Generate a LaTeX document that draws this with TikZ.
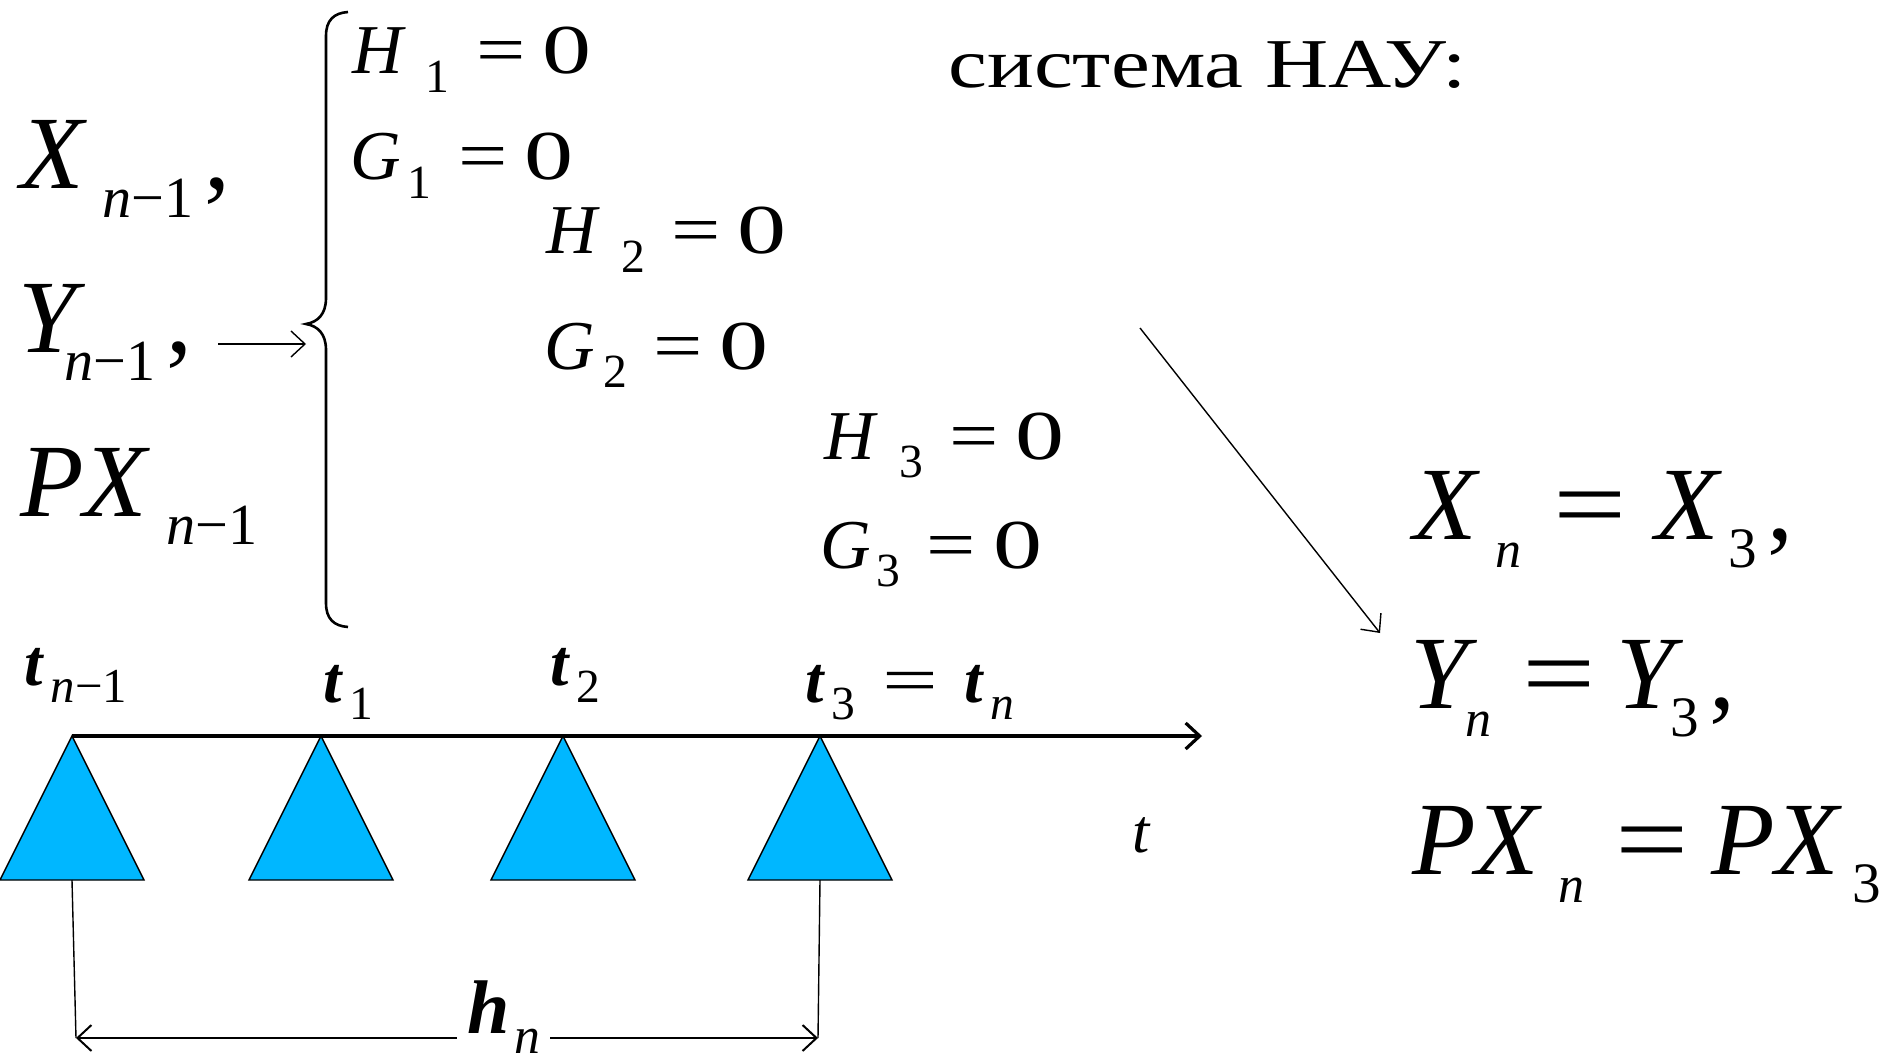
\documentclass[tikz,border=0pt]{standalone}
\usepackage{graphicx}
\usepackage{fontspec}
\setmainfont{Liberation Serif}
\usetikzlibrary{arrows.meta, positioning}
\definecolor{markblue}{RGB}{0,183,255}
% letter with a lowered index: [size]{gap}{letter}{index}
\newcommand\idx[4][.56]{#3\kern#2em\raisebox{-.27em}{\scalebox{#1}{#4}}}
\newcommand\vi[1]{\textit{#1}}
\newcommand\vb[1]{\textbf{\textit{#1}}}
\newcommand\eqs{\scalebox{1.25}[1]{=}}
\newcommand\eqz{\hspace{.38em}\eqs\hspace{.24em}\scalebox{1.4}[1]{0}}

\begin{document}
\begin{tikzpicture}[x=0.5pt, y=-0.5pt, >={Straight Barb[length=7pt, width=13pt]},
    txt/.style={anchor=base west, inner sep=0pt},
    bigmath/.style={txt, font=\fontsize{52}{60}\selectfont},
    eqmath/.style={txt, font=\fontsize{35}{40}\selectfont},
    tlabel/.style={txt, font=\fontsize{33}{36}\selectfont},
    marker/.style={draw, line width=0.7pt, fill=markblue},
    thinarrow/.style={->, line width=0.7pt}]
    \useasboundingbox (0,0) rectangle (1882,1053);

    \node [bigmath] (xprev) at (20,189) {\idx{.15}{\vi{X}}{\vi{n}−1}\kern.1em,};
    \node [bigmath] (yprev) at (18,352) {\idx{-.2}{\vi{Y}}{\vi{n}−1}\kern.1em,};
    \node [bigmath] (pxprev) at (20,516) {\idx{.15}{\vi{PX}}{\vi{n}−1}};

    \node [eqmath] (h1) at (352,74) {\idx[.68]{.28}{\vi{H}}{1}\eqz};
    \node [eqmath] (g1) at (350,180) {\idx[.68]{.1}{\vi{G}}{1}\eqz};
    \node [eqmath] (h2) at (546,254) {\idx[.68]{.3}{\vi{H}}{2}\eqz};
    \node [eqmath] (g2) at (544,369) {\idx[.68]{.12}{\vi{G}}{2}\eqz};
    \node [eqmath] (h3) at (824,459) {\idx[.68]{.3}{\vi{H}}{3}\eqz};
    \node [eqmath] (g3) at (820,568) {\idx[.68]{.08}{\vi{G}}{3}\eqz};

    \node [txt, font=\fontsize{35}{40}\selectfont] (sys) at (948,88) {\scalebox{1.25}[1]{система НАУ:}};

    \node [bigmath] (xn) at (1413,539) {\idx[.5]{.15}{\vi{X}}{\vi{n}}\hspace{.3em}\eqs\hspace{.28em}\idx[.55]{.06}{\vi{X}}{3}\kern.1em,};
    \node [bigmath] (yn) at (1410,708) {\idx[.5]{-.12}{\vi{Y}}{\vi{n}}\hspace{.3em}\eqs\hspace{.2em}\idx[.55]{-.12}{\vi{Y}}{3}\kern.1em,};
    \node [bigmath] (pxn) at (1412,874) {\idx[.5]{.15}{\vi{PX}}{\vi{n}}\hspace{.3em}\eqs\hspace{.22em}\idx[.55]{.1}{\vi{PX}}{3}};

    % brace of the system
    \coordinate (bracetip) at (306,324);
    \draw [line width=1.3pt] (348,12) .. controls (334,13) and (326,20) .. (326,36) -- (326,298)
        .. controls (326,314) and (318,322) .. (bracetip) .. controls (318,326) and (326,334) .. (326,350)
        -- (326,603) .. controls (326,619) and (334,626) .. (348,627);
    \coordinate (arrstart) at (218,344);
    \coordinate (arrend) at (306,344);
    \draw [thinarrow] (arrstart) -- (arrend);

    \coordinate (diagstart) at (1140,328);
    \coordinate (diagend) at (1380,633);
    \draw [thinarrow] (diagstart) -- (diagend);

    % time axis with the step markers
    \foreach \x/\n in {72/a, 321/b, 563/c, 820/d} {
        \draw [marker] (\x,736) -- (\x+72,880) -- (\x-72,880) -- cycle;
        \coordinate (apex\n) at (\x,736);
        \coordinate (base\n) at (\x,880);
    }
    \coordinate (axend) at (1202,736);
    \draw [->, line width=1.6pt] (apexa) -- (axend);

    \node [tlabel] (tprev) at (24,685) {\idx[.74]{.1}{\vb{t}}{\vi{n}−1}};
    \node [tlabel] (t1) at (323,702) {\idx[.72]{.1}{\vb{t}}{1}};
    \node [tlabel] (t2) at (550,685) {\idx[.72]{.1}{\vb{t}}{2}};
    \node [tlabel] (t3) at (805,702) {\idx[.72]{.1}{\vb{t}}{3}\hspace{.4em}\scalebox{1.5}[1]{=}\hspace{.4em}\idx[.72]{.1}{\vb{t}}{\vi{n}}};
    \node [tlabel, font=\fontsize{31}{36}\selectfont] (taxis) at (1132,852) {\vi{t}};

    \coordinate (hl) at (76,1038);
    \coordinate (hr) at (818,1038);
    \draw [line width=0.7pt] (basea) -- (hl);
    \draw [line width=0.7pt] (based) -- (hr);
    \draw [<->, line width=1pt] (hl) -- (hr);
    \node [txt, fill=white, inner xsep=5pt, font=\fontsize{38}{42}\selectfont] (hn) at (457,1033) {\idx[.68]{.06}{\vb{h}}{\vi{n}}};
\end{tikzpicture}
\end{document}
